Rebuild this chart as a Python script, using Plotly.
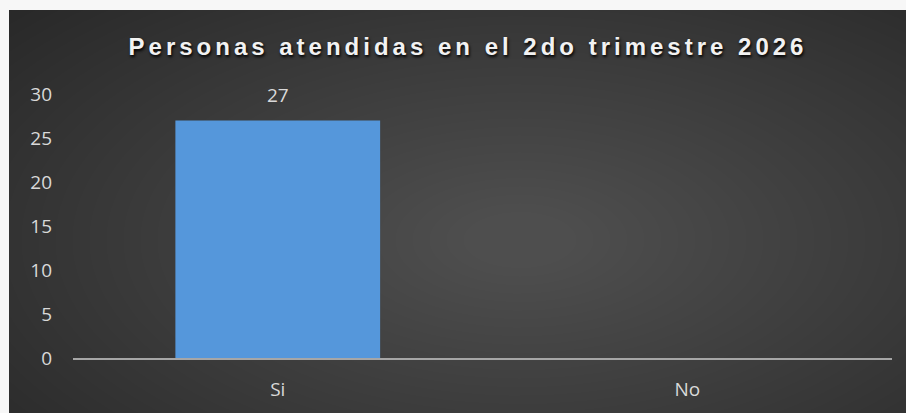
import plotly.graph_objects as go

categories = ["Si", "No"]
values = [27, 0]
value_labels = ["27", ""]
tick_vals = [0, 5, 10, 15, 20, 25, 30]
title_text = "Personas atendidas en el 2do trimestre 2026"

W, H = 906, 413
L, R, T, B = 73, 14, 94, 55
pw, ph = W - L - R, H - T - B


def px_x(p):
    return (p - L) / pw


def px_y(p):
    return (H - B - p) / ph


fig = go.Figure()
fig.add_trace(go.Bar(
    x=categories, y=values, width=0.5,
    marker=dict(color="#5597db", line=dict(width=0)),
))
for c, v, t in zip(categories, values, value_labels):
    if t:
        fig.add_annotation(x=c, y=v, text=t, showarrow=False, yanchor="middle", yshift=25,
                           font=dict(color="#d9d9d9", size=19, family="Open Sans"))

shapes = [dict(type="rect", xref="paper", yref="paper", layer="below",
               x0=px_x(9), x1=px_x(W + 5), y0=px_y(H + 5), y1=px_y(10),
               fillcolor="#262626", line=dict(width=0))]
cx, cy = 520, 240
n = 40
for i in range(n):
    rx = 720 - i * 17
    ry = 360 - i * 8.5
    shapes.append(dict(type="circle", xref="paper", yref="paper", layer="below",
                       x0=px_x(cx - rx), x1=px_x(cx + rx),
                       y0=px_y(cy + ry), y1=px_y(cy - ry),
                       fillcolor="rgba(255,255,255,0.0078)", line=dict(width=0)))

fig.update_layout(
    width=W, height=H,
    margin=dict(l=L, r=R, t=T, b=B, pad=0, autoexpand=False),
    paper_bgcolor="#f7f7f7", plot_bgcolor="rgba(0,0,0,0)",
    shapes=shapes,
    showlegend=False,
    title=dict(text='<span style="letter-spacing:4px">' + title_text + '</span>',
               x=468 / W, xanchor="center", y=1 - 47 / H, yanchor="middle",
               font=dict(family="Liberation Sans", size=24, color="#f2f2f2", weight="bold",
                         shadow="1px 2px 3px #000000")),
    xaxis=dict(showgrid=False, showline=True, linecolor="#a6a6a6", linewidth=2,
               ticks="", tickfont=dict(color="#d9d9d9", size=19, family="Open Sans"),
               ticklabelstandoff=13, zeroline=False, automargin=False),
    yaxis=dict(range=[0, 30], tickvals=tick_vals, showgrid=False, zeroline=False,
               showline=False, ticks="", ticklabelstandoff=20, automargin=False,
               tickfont=dict(color="#d9d9d9", size=19, family="Open Sans")),
)
fig.write_html("out.html")
